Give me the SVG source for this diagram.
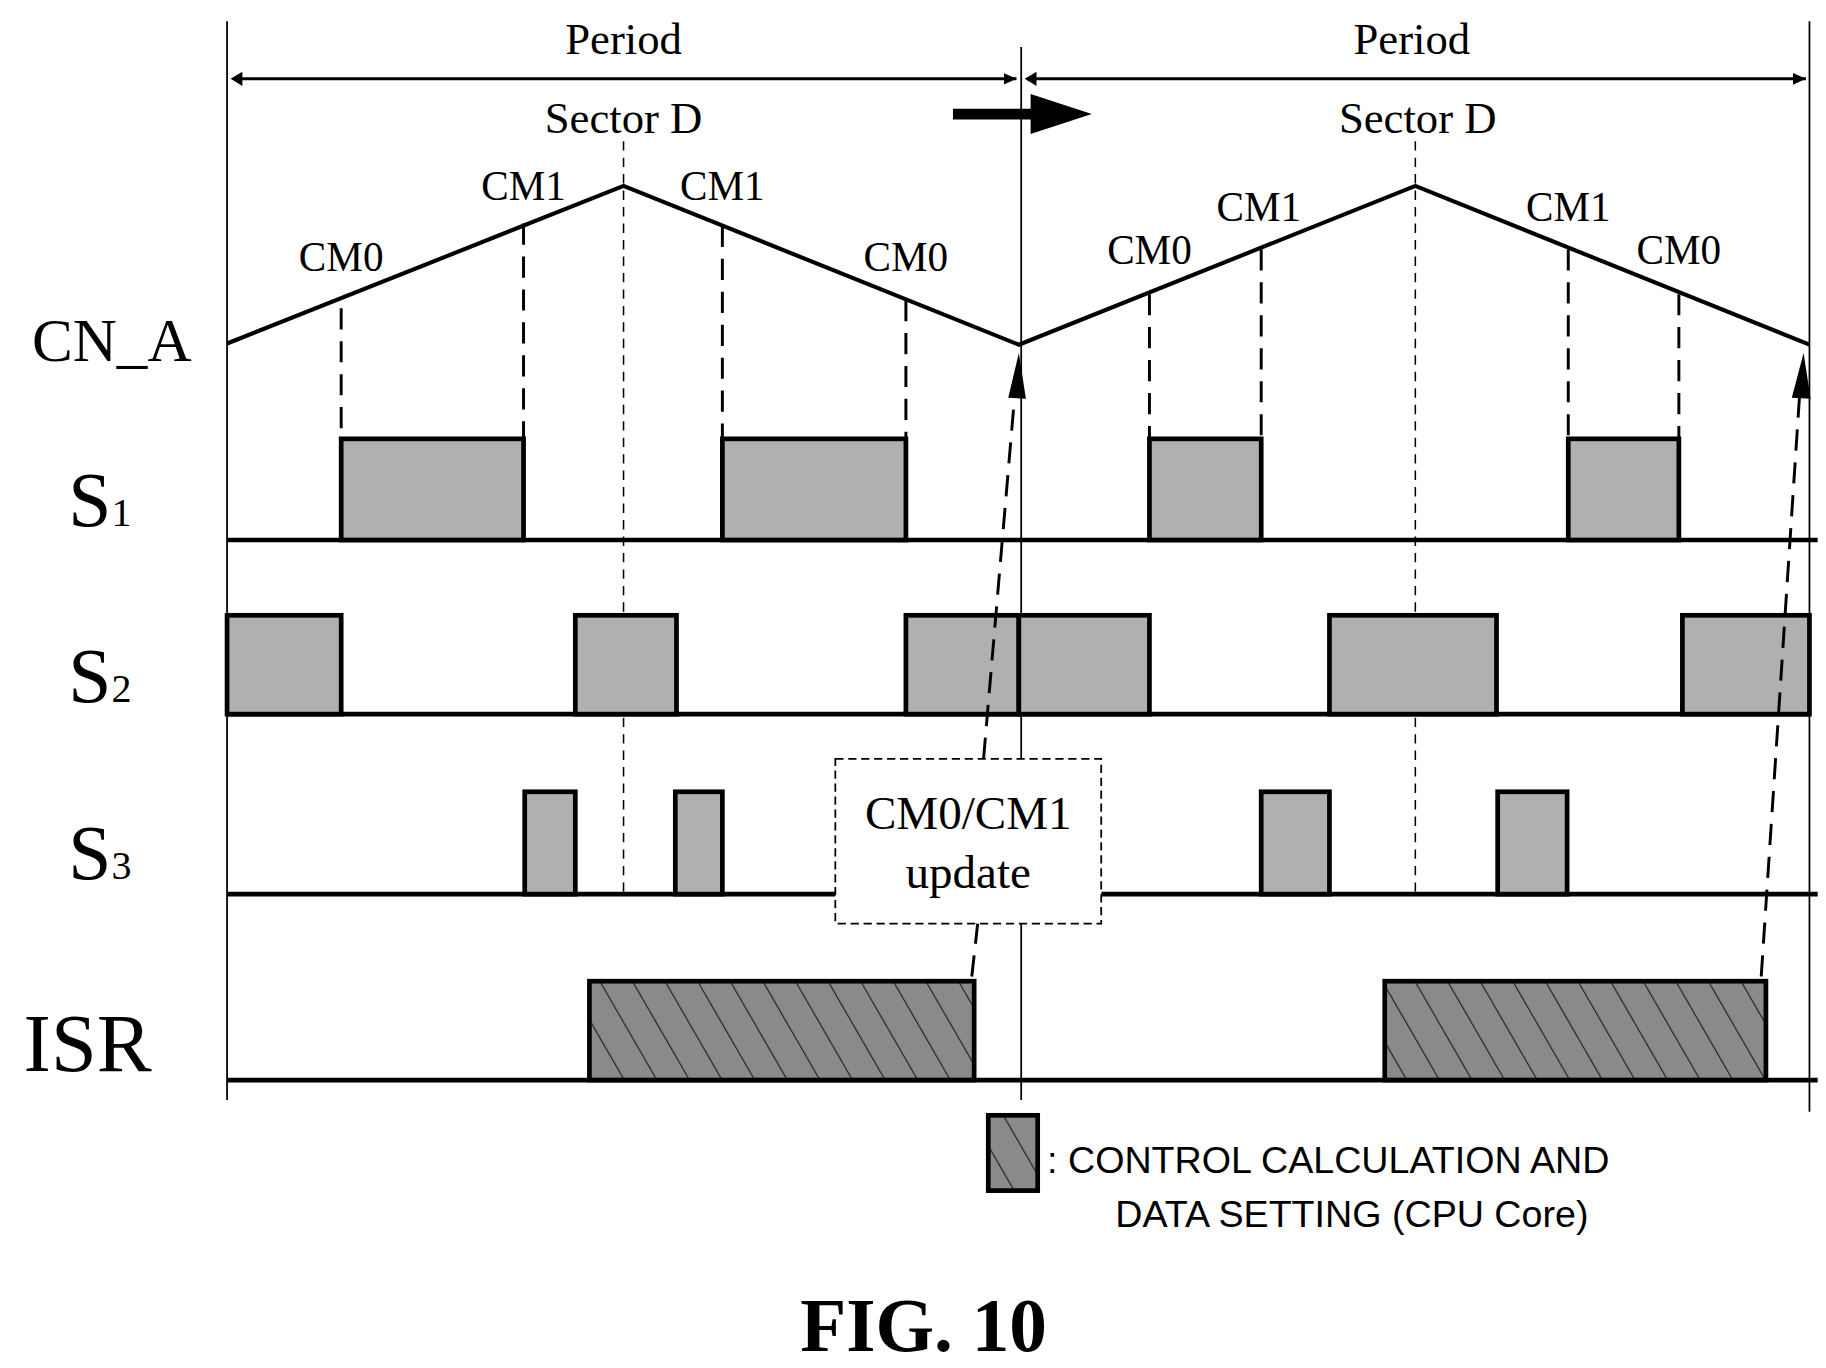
<svg xmlns="http://www.w3.org/2000/svg" width="1826" height="1368" viewBox="0 0 1826 1368">
<defs>
<pattern id="hatch" patternUnits="userSpaceOnUse" width="24" height="24" patternTransform="rotate(-30)">
<rect width="24" height="24" fill="#8a8a8a"/>
<line x1="0" y1="0" x2="0" y2="24" stroke="#222" stroke-width="2"/>
</pattern>
<marker id="ah" markerWidth="12" markerHeight="12" refX="11" refY="6" orient="auto" markerUnits="userSpaceOnUse"><path d="M0,1 L11,6 L0,11 Z" fill="#000"/></marker>
</defs>
<style>
.serif{font-family:"Liberation Serif","DejaVu Serif",serif;fill:#000}
.sans{font-family:"Liberation Sans","DejaVu Sans",sans-serif;fill:#000}
.thin{stroke:#000;stroke-width:1.5;fill:none}
.dash{stroke:#000;stroke-width:2.5;stroke-dasharray:18 10;fill:none}
.cdash{stroke:#000;stroke-width:1.3;stroke-dasharray:8 6;fill:none}
.pulse{fill:#b0b0b0;stroke:#000;stroke-width:4}
.isr{fill:url(#hatch);stroke:#000;stroke-width:4}
.base{stroke:#000;stroke-width:4;fill:none}
</style>
<g transform="scale(1.1765)">
<g id="grid">
<line class="thin" x1="193" y1="18" x2="193" y2="935"/>
<line class="thin" x1="868" y1="40" x2="868" y2="935"/>
<line class="thin" x1="1538" y1="18" x2="1538" y2="945"/>
<line class="cdash" x1="530" y1="120" x2="530" y2="760"/>
<line class="cdash" x1="1203" y1="120" x2="1203" y2="760"/>
</g>
<g id="period">
<line stroke="#000" stroke-width="2.5" x1="205" y1="67" x2="864" y2="67" marker-end="url(#ah)"/>
<line stroke="#000" stroke-width="2.5" x1="873" y1="67" x2="1535" y2="67" marker-end="url(#ah)"/>
<path d="M206,61 L196,67 L206,73 Z" fill="#000"/>
<path d="M881,61 L871,67 L881,73 Z" fill="#000"/>
<text class="serif" x="530" y="46" font-size="38" text-anchor="middle">Period</text>
<text class="serif" x="1200" y="46" font-size="38" text-anchor="middle">Period</text>
<text class="serif" x="530" y="113" font-size="38" text-anchor="middle">Sector D</text>
<text class="serif" x="1205" y="113" font-size="38" text-anchor="middle">Sector D</text>
<line stroke="#000" stroke-width="9" x1="810" y1="97" x2="882" y2="97"/>
<path d="M876,80 L928,97 L876,114 Z" fill="#000"/>
</g>
<g id="cn_a">
<polyline stroke="#000" stroke-width="3.5" fill="none" points="193,292 530,158 866,293 1203,158 1538,293"/>
<text class="serif" x="95" y="307" font-size="52" text-anchor="middle">CN_A</text>
<line class="dash" x1="290" y1="262" x2="290" y2="372"/>
<line class="dash" x1="445" y1="190" x2="445" y2="372"/>
<line class="dash" x1="614" y1="192" x2="614" y2="372"/>
<line class="dash" x1="770" y1="255" x2="770" y2="372"/>
<line class="dash" x1="977" y1="250" x2="977" y2="372"/>
<line class="dash" x1="1072" y1="212" x2="1072" y2="372"/>
<line class="dash" x1="1333" y1="212" x2="1333" y2="372"/>
<line class="dash" x1="1427" y1="250" x2="1427" y2="372"/>
<text class="serif" x="290" y="230" font-size="35" text-anchor="middle">CM0</text>
<text class="serif" x="445" y="170" font-size="35" text-anchor="middle">CM1</text>
<text class="serif" x="614" y="170" font-size="35" text-anchor="middle">CM1</text>
<text class="serif" x="770" y="230" font-size="35" text-anchor="middle">CM0</text>
<text class="serif" x="977" y="224" font-size="35" text-anchor="middle">CM0</text>
<text class="serif" x="1070" y="188" font-size="35" text-anchor="middle">CM1</text>
<text class="serif" x="1333" y="188" font-size="35" text-anchor="middle">CM1</text>
<text class="serif" x="1427" y="224" font-size="35" text-anchor="middle">CM0</text>
</g>
<g id="s1">
<line class="base" x1="193" y1="459" x2="1545" y2="459"/>
<rect class="pulse" x="290" y="373" width="155" height="86"/>
<rect class="pulse" x="614" y="373" width="156" height="86"/>
<rect class="pulse" x="977" y="373" width="95" height="86"/>
<rect class="pulse" x="1333" y="373" width="94" height="86"/>
<text class="serif" x="58" y="447" font-size="66">S<tspan font-size="34">1</tspan></text>
</g>
<g id="s2">
<line class="base" x1="193" y1="607" x2="1538" y2="607"/>
<rect class="pulse" x="193" y="523" width="97" height="84"/>
<rect class="pulse" x="489" y="523" width="86" height="84"/>
<rect class="pulse" x="770" y="523" width="96" height="84"/>
<rect class="pulse" x="866" y="523" width="111" height="84"/>
<rect class="pulse" x="1130" y="523" width="142" height="84"/>
<rect class="pulse" x="1430" y="523" width="108" height="84"/>
<text class="serif" x="58" y="597" font-size="66">S<tspan font-size="34">2</tspan></text>
</g>
<g id="s3">
<line class="base" x1="193" y1="760" x2="710" y2="760"/>
<line class="base" x1="936" y1="760" x2="1545" y2="760"/>
<rect class="pulse" x="446" y="673" width="43" height="87"/>
<rect class="pulse" x="574" y="673" width="40" height="87"/>
<rect class="pulse" x="1072" y="673" width="58" height="87"/>
<rect class="pulse" x="1273" y="673" width="59" height="87"/>
<text class="serif" x="58" y="747" font-size="66">S<tspan font-size="34">3</tspan></text>
</g>
<g id="isr">
<line class="base" x1="193" y1="918" x2="1545" y2="918"/>
<rect class="isr" x="501" y="834" width="327" height="84"/>
<rect class="isr" x="1177" y="834" width="324" height="84"/>
<text class="serif" x="20" y="910" font-size="70">ISR</text>
</g>
<g id="update">
<rect x="710" y="645" width="226" height="140" fill="#fff" stroke="#000" stroke-width="1.5" stroke-dasharray="7 4"/>
<text class="serif" x="823" y="705" font-size="40" text-anchor="middle">CM0/CM1</text>
<text class="serif" x="823" y="755" font-size="40" text-anchor="middle">update</text>
</g>
<g id="connectors">
<line class="dash" x1="826" y1="830" x2="831" y2="785"/>
<line class="dash" x1="836" y1="645" x2="863" y2="330"/>
<path d="M857,338 L866,300 L872,339 Z" fill="#000"/>
<line class="dash" x1="1497" y1="830" x2="1530" y2="330"/>
<path d="M1523,338 L1533,300 L1539,339 Z" fill="#000"/>
</g>
<g id="legend">
<rect class="isr" x="840" y="948" width="42" height="64"/>
<text class="sans" x="890" y="997" font-size="32">:  CONTROL CALCULATION AND</text>
<text class="sans" x="948" y="1043" font-size="32">DATA SETTING (CPU Core)</text>
</g>
<text class="serif" x="785" y="1148" font-size="64" font-weight="bold" text-anchor="middle">FIG. 10</text>
</g>
</svg>
